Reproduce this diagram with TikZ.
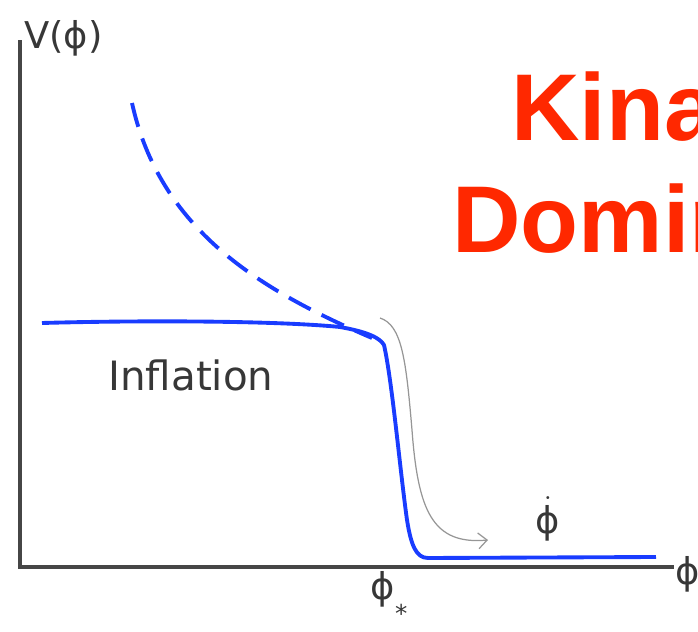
\documentclass[tikz,border=0pt]{standalone}
\usepackage{amsmath}
\usepackage{fontspec}
\setmainfont{DejaVu Sans}
\newfontfamily\titlefont{Liberation Sans}
\usetikzlibrary{arrows.meta}
\definecolor{potblue}{RGB}{25,60,255}
\definecolor{kinred}{RGB}{255,40,0}
\definecolor{axisgray}{RGB}{70,70,70}
\definecolor{labelgray}{RGB}{55,55,55}
\definecolor{flowgray}{RGB}{150,150,150}
\begin{document}
\begin{tikzpicture}[
    x=0.02cm, y=-0.02cm,
    % Styles
    axis_line/.style={axisgray, line width=1.8pt},
    pot_curve/.style={potblue, line width=2.2pt, line join=round},
    pot_branch/.style={potblue, line width=2.2pt, dash pattern=on 14pt off 7pt},
    flow_arrow/.style={flowgray, line width=0.7pt, -{Straight Barb[length=5pt, width=9pt]}},
    axis_label/.style={text=labelgray, font=\fontsize{21}{24}\selectfont, inner sep=0pt},
    title_text/.style={text=kinred, font=\titlefont\fontsize{54}{60}\selectfont\bfseries, inner sep=0pt, anchor=base west}
]

    \useasboundingbox (0,0) rectangle (698,632);
    \clip (0,0) rectangle (698,632);

    % ==========================================
    % 1. AXES
    % ==========================================
    \coordinate (origin) at (20,567);
    \coordinate (ytop) at (20,40);
    \coordinate (xend) at (674,567);
    \draw[axis_line] (ytop) -- (origin) -- (xend);

    \node[axis_label, anchor=west] (vlabel) at (24,38) {V(ϕ)};
    \node[axis_label, anchor=west] (xlabel) at (675,574) {ϕ};

    % ==========================================
    % 2. POTENTIAL
    % ==========================================
    \coordinate (P1) at (42,323);
    \coordinate (P2) at (340,327);
    \coordinate (P3) at (384,345);
    \coordinate (P4) at (407,520);
    \coordinate (P5) at (428,558);
    \coordinate (P6) at (656,557);
    \coordinate (Q1) at (132,103);

    \draw[pot_curve] (P1) .. controls (150,320) and (280,321) .. (P2)
        .. controls (368,332) and (380,338) .. (P3)
        .. controls (392,380) and (400,470) .. (P4)
        .. controls (411,545) and (416,558) .. (P5) -- (P6);

    % steeper branch
    \draw[pot_branch] (Q1) .. controls (160,230) and (260,290) .. (372,338);

    % rolling arrow
    \coordinate (A1) at (380,318);
    \coordinate (A2) at (488,540);
    \draw[flow_arrow] (A1) .. controls (402,325) and (406,360) .. (412,430)
        .. controls (418,510) and (432,545) .. (A2);

    % ==========================================
    % 3. ANNOTATIONS
    % ==========================================
    \node[axis_label, font=\fontsize{23}{27}\selectfont, anchor=base west] (inflation) at (108,391) {Inflation};
    \node[axis_label, anchor=base] (phidot) at (548,533) {$\dot{\text{ϕ}}$};
    \node[axis_label, anchor=base] (phistar) at (389,600) {ϕ\raisebox{-1.1ex}{\fontsize{14}{14}\selectfont *}};

    \node[title_text] (kination) at (511,140) {Kination};
    \node[title_text] (domination) at (452,253) {Domination};

\end{tikzpicture}
\end{document}
